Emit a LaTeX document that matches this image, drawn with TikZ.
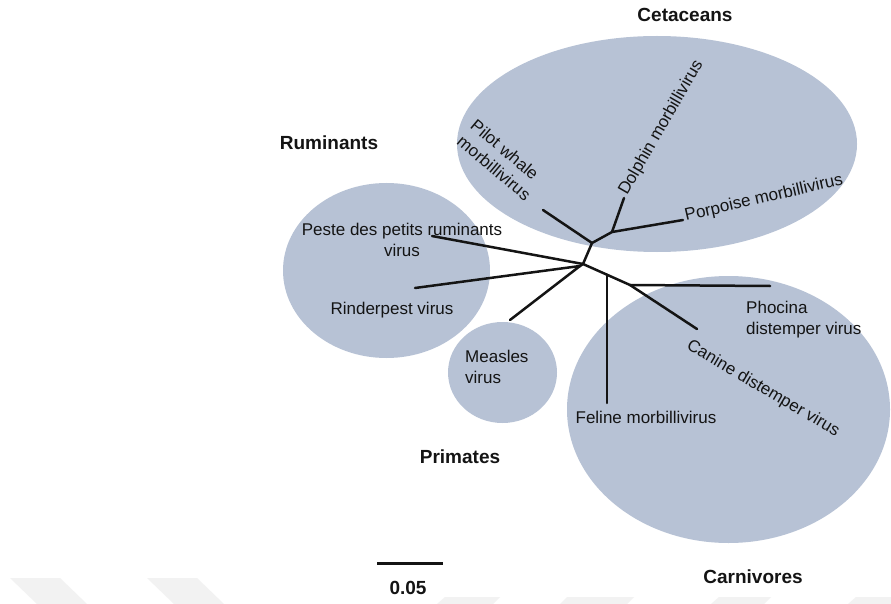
\documentclass[tikz,border=0pt]{standalone}
\usepackage{fontspec}
\setmainfont{Liberation Sans}
\usetikzlibrary{calc}
\definecolor{blobc}{RGB}{183,194,213}
\definecolor{wmark}{RGB}{242,242,242}
\definecolor{inkc}{RGB}{20,20,20}
\begin{document}
\begin{tikzpicture}[x=1pt,y=-1pt,
  blob/.style={fill=blobc},
  branch/.style={draw=inkc,line width=2.5pt,line cap=round},
  lab/.style={font=\fontsize{17}{21}\selectfont,inner sep=0pt,text=inkc},
  grp/.style={font=\bfseries\fontsize{19}{23}\selectfont,inner sep=0pt,text=inkc},
  wm/.style={fill=wmark}]
\fill[white] (0,0) rectangle (891,604);
\useasboundingbox (0,0) rectangle (891,604);
% faint watermark
\fill[wm] (10,578) -- (60,578) -- (87,604) -- (37,604) -- cycle;
\fill[wm] (147,578) -- (197,578) -- (224,604) -- (174,604) -- cycle;
\fill[wm] (445,597) -- (500,597) -- (493,604) -- (437,604) -- cycle;
\fill[wm] (567,597) -- (634,597) -- (627,604) -- (560,604) -- cycle;
\fill[wm] (719,597) -- (771,597) -- (764,604) -- (711,604) -- cycle;
\fill[wm] (856,597) -- (891,597) -- (891,604) -- (848,604) -- cycle;
% group areas
\fill[blob] (657,144) ellipse [x radius=200, y radius=108];
\fill[blob] (386.5,270.5) ellipse [x radius=103.5, y radius=87.5];
\fill[blob] (502.5,372.5) ellipse [x radius=54.5, y radius=50.5];
\fill[blob] (728.5,409.5) ellipse [x radius=161.5, y radius=133.5];
% tree coordinates
\coordinate (R) at (583,264);
\coordinate (M) at (580,266);
\coordinate (A) at (592,243);
\coordinate (B) at (612,232);
\coordinate (C) at (630,285);
\coordinate (F) at ($(R)!0.51!(C)$);
\coordinate (pilot) at (543,210);
\coordinate (dolphin) at (624,198);
\coordinate (porpoise) at (683,220);
\coordinate (peste) at (432,236);
\coordinate (rinder) at (415,288);
\coordinate (measles) at (510,320);
\coordinate (feline) at (607,403);
\coordinate (phocina) at (770,286);
\coordinate (canine) at (697,329);
% branches
\draw[branch] (R) -- (A);
\draw[branch] (A) -- (pilot);
\draw[branch] (A) -- (B);
\draw[branch] (B) -- (dolphin);
\draw[branch] (B) -- (porpoise);
\draw[branch] (peste) -- (R);
\draw[branch] (R) -- (M);
\draw[branch] (M) -- (rinder);
\draw[branch] (M) -- (measles);
\draw[branch] (R) -- (C);
\draw[branch] (F) -- (F |- feline);
\draw[branch] (C) -- (phocina);
\draw[branch] (C) -- (canine);
% group titles
\node[grp] (tCet) at (685,15) {Cetaceans};
\node[grp] (tRum) at (329,143) {Ruminants};
\node[grp] (tPri) at (460,457) {Primates};
\node[grp] (tCar) at (753,577) {Carnivores};
% scale bar
\coordinate (sb1) at (377,563);
\coordinate (sb2) at (443,563);
\draw[draw=inkc,line width=3pt] (sb1) -- (sb2);
\node[grp] (tScale) at (408,588) {0.05};
% leaf labels
\node[lab,align=left,rotate=-40] (lPilot) at (501,160) {Pilot whale\\morbillivirus};
\node[lab,anchor=base west,rotate=60] (lDol) at (627,196) {Dolphin morbillivirus};
\node[lab,anchor=base west,rotate=13] (lPor) at (686,221) {Porpoise morbillivirus};
\node[lab,align=center] (lPeste) at (402,240) {Peste des petits ruminants\\virus};
\node[lab] (lRin) at (392,310) {Rinderpest virus};
\node[lab,align=left,anchor=west] (lMea) at (465,367) {Measles\\virus};
\node[lab] (lFel) at (646,417) {Feline morbillivirus};
\node[lab,align=left,anchor=west] (lPho) at (746,320) {Phocina\\distemper virus};
\node[lab,rotate=-30.5] (lCan) at (763,389) {Canine distemper virus};
\end{tikzpicture}
\end{document}
